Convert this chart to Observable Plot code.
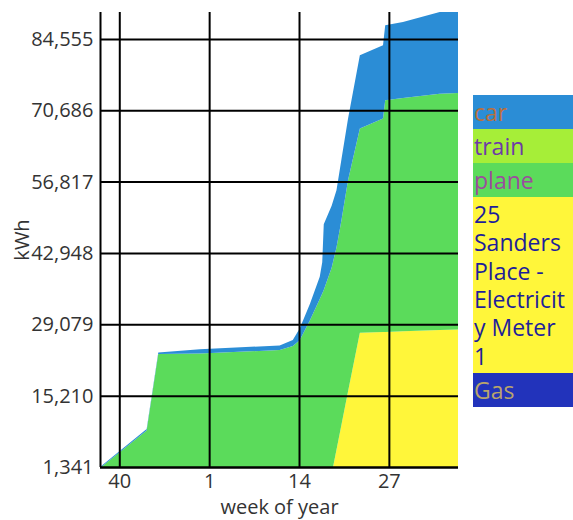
<!DOCTYPE html>
<html>
<head>
<meta charset="utf-8">
<script src="https://cdn.jsdelivr.net/npm/d3@7"></script>
<script src="https://cdn.jsdelivr.net/npm/@observablehq/plot@0.6"></script>
<style>
  html, body { margin: 0; padding: 0; background: #fff; }
  #wrap { position: relative; width: 573px; height: 520px; overflow: hidden; font-family: "Open Sans", sans-serif; }
  #chart { position: absolute; left: 0; top: 0; }
  #legend { position: absolute; left: 473px; top: 95px; width: 100px; }
  .item { font-size: 23px; line-height: 28.4px; padding: 2.8px 0 2.8px 1px; box-sizing: border-box; overflow-wrap: anywhere; }
</style>
</head>
<body>
<div id="wrap"><div id="chart"></div><div id="legend"></div></div>
<script>
// week index: 0 = week 40, 13 = week 1, 26 = week 14, 39 = week 27
const weekIndex   = [-2.79, 3.96, 5.64, 11.66, 23.2, 25.1, 26.1, 27.6, 29.0, 29.36, 29.58, 30.72, 31.42, 32.14, 33.09, 34.8, 38.15, 38.47, 41.04, 46.35, 49.0];
const gas         = [0, 0, 0, 0, 0, 0, 0, 0, 0, 0, 0, 0, 0, 0, 0, 0, 0, 0, 0, 0, 0];
const electricity = [0, 0, 0, 0, 0, 0, 0, 0, 0, 0, 0, 0, 4685, 9566, 16008, 27429, 27585, 27600, 27720, 27960, 28089];
const plane       = [1150, 8431, 23291, 23427, 24068, 24845, 26000, 29896, 33975, 35082, 35761, 40094, 39313, 39755, 41083, 39704, 41490, 45031, 45358, 45934, 45961];
const train       = [0, 0, 0, 0, 0, 0, 0, 0, 0, 0, 0, 0, 0, 0, 0, 0, 0, 0, 0, 0, 0];
const car         = [191, 292, 309, 800, 900, 1166, 2284, 3244, 4332, 6080, 12783, 12043, 11150, 11829, 11965, 14231, 14240, 14569, 14763, 15889, 15733];

const seriesNames  = ["Gas", "25 Sanders Place - Electricity Meter 1", "plane", "train", "car"];
const seriesValues = [gas, electricity, plane, train, car];
const seriesColors = ["#2233bb", "#fff63a", "#5bdb5b", "#a6ee38", "#2b8dd6"];
const legendTextColors = ["#b9a46c", "#1e1e9a", "#9b4c9e", "#6e3aa8", "#b8703e"];

const xTickValues = [0, 13, 26, 39];
const xTickLabels = ["40", "1", "14", "27"];
const yTicks = [1341, 15210, 29079, 42948, 56817, 70686, 84555];
const yMin = 1341, yMax = 89783;

const rows = [];
seriesNames.forEach((name, s) => {
  weekIndex.forEach((w, i) => rows.push({week: w, value: seriesValues[s][i], series: name}));
});

const chart = Plot.plot({
  width: 463,
  height: 520,
  marginLeft: 100,
  marginRight: 5,
  marginTop: 12,
  marginBottom: 53,
  style: {fontFamily: "Open Sans, sans-serif", fontSize: "20px", color: "#333", background: "#fff"},
  x: {domain: [weekIndex[0], weekIndex[weekIndex.length - 1]]},
  y: {domain: [yMin, yMax]},
  color: {domain: seriesNames, range: seriesColors},
  marks: [
    Plot.areaY(rows, {x: "week", y: "value", z: "series", fill: "series", order: null, curve: "linear", clip: true}),
    Plot.gridX(xTickValues, {stroke: "#000", strokeOpacity: 1, strokeWidth: 2}),
    Plot.gridY(yTicks, {stroke: "#000", strokeOpacity: 1, strokeWidth: 2}),
    Plot.ruleX([weekIndex[0]], {stroke: "#000", strokeWidth: 2}),
    Plot.ruleY([yMin], {stroke: "#000", strokeWidth: 2}),
    Plot.axisY(yTicks, {tickFormat: d3.format(","), tickSize: 0, tickPadding: 7, fontSize: 20, fill: "#333",
      label: "kWh", labelAnchor: "center", labelArrow: "none", labelOffset: 86}),
    Plot.axisX(xTickValues, {tickFormat: (d) => xTickLabels[xTickValues.indexOf(d)], tickSize: 0, tickPadding: 6, fontSize: 20, fill: "#333",
      label: "week of year", labelAnchor: "center", labelArrow: "none", labelOffset: 46})
  ]
});
document.getElementById("chart").appendChild(chart);

const legend = document.getElementById("legend");
seriesNames.slice().reverse().forEach((name) => {
  const i = seriesNames.indexOf(name);
  const div = document.createElement("div");
  div.className = "item";
  div.style.background = seriesColors[i];
  div.style.color = legendTextColors[i];
  div.textContent = name;
  legend.appendChild(div);
});
</script>
</body>
</html>
